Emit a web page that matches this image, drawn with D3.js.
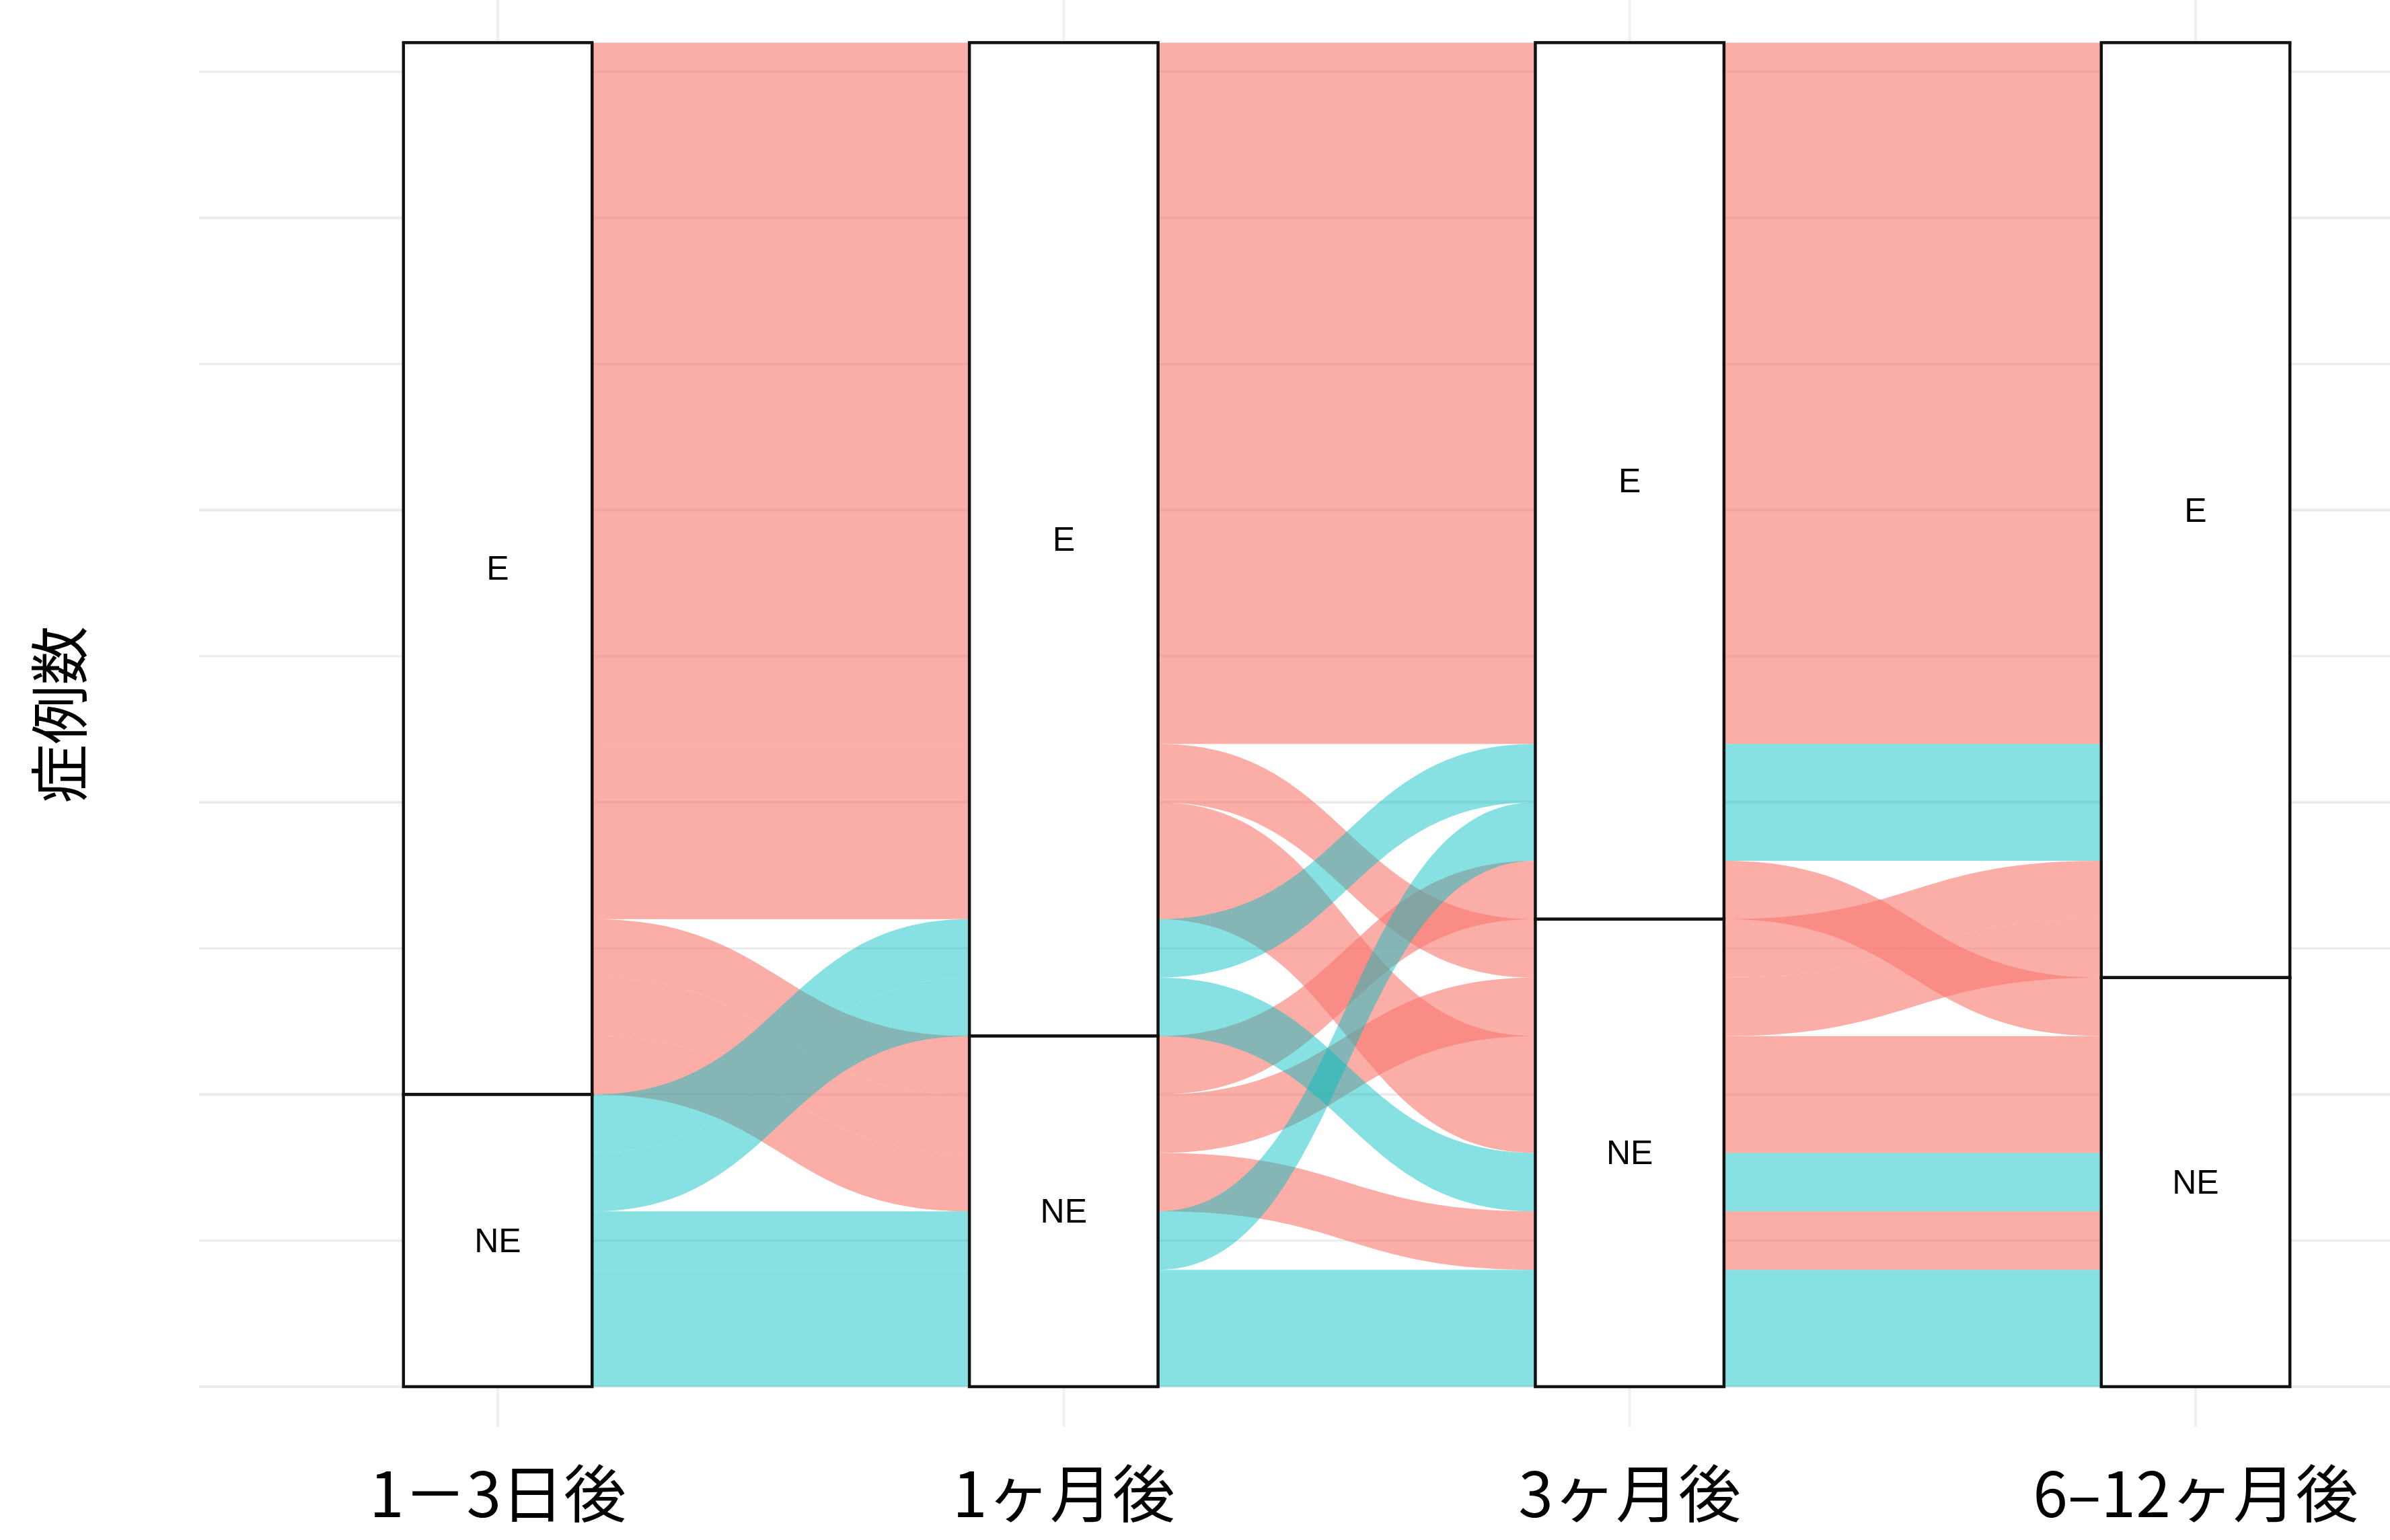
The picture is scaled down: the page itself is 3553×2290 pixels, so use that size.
<!DOCTYPE html>
<html>
<head>
<meta charset="utf-8">
<script src="https://cdn.jsdelivr.net/npm/d3@7"></script>
<style>
  body { margin: 0; background: #fff; }
  svg { display: block; }
</style>
</head>
<body>
<svg id="chart"></svg>
<script>
/*************************************************************************/
// data

const axisLabels = ["1－3日後", "1ヶ月後", "3ヶ月後", "6–12ヶ月後"];
const strataLevels = ["E", "NE"];

// status at each time point, one row per group of identical cases
const alluviumPaths = [
    ["E",  "E",  "E",  "E" ],
    ["E",  "E",  "NE", "E" ],
    ["E",  "E",  "NE", "NE"],
    ["E",  "NE", "E",  "NE"],
    ["E",  "NE", "NE", "E" ],
    ["E",  "NE", "NE", "NE"],
    ["NE", "E",  "E",  "E" ],
    ["NE", "E",  "NE", "NE"],
    ["NE", "NE", "E",  "E" ],
    ["NE", "NE", "NE", "NE"]
];
const alluviumCounts = [12, 1, 2, 1, 1, 1, 1, 1, 1, 2];

const yMajorTicks = [0, 5, 10, 15, 20];
const yMinorTicks = [2.5, 7.5, 12.5, 17.5, 22.5];

/*************************************************************************/
// setup

const W = 3553, H = 2290;
const total = d3.sum(alluviumCounts);
const nAxes = axisLabels.length;

const svg = d3.select('#chart').attr('width', W).attr('height', H);

const x = d3.scaleLinear().domain([1, nAxes]).range([740, 3264]);
const y = d3.scaleLinear().domain([0, total]).range([2062, 63.4]);
const fill = d3.scaleOrdinal().domain(strataLevels).range(["#F8766D", "#00BFC4"]);
const fillOpacity = d3.scaleOrdinal().domain(strataLevels).range([0.6, 0.47]);

const boxW = (x(2) - x(1)) / 3;
const panel = { left: 296, right: W, top: y(total * 1.05), bottom: y(-total * 0.03) };

const alluvia = alluviumPaths.map((p, i) => ({ path: p, count: alluviumCounts[i], tops: [] }));

/*************************************************************************/
// lode order at each axis: own stratum, then the other axes zigzagging outward

function zigzag(n, i){
    let left = d3.range(i - 1, -1, -1), right = d3.range(i + 1, n), out = [];
    let first = (i <= n - 1 - i) ? left : right, second = (first === left) ? right : left;
    while(first.length || second.length){
        if(first.length) out.push(first.shift());
        if(second.length) out.push(second.shift());
    }
    return out;
}

for(let i = 0; i < nAxes; i++){
    const order = [i].concat(zigzag(nAxes, i));
    const sorted = alluvia.slice().sort((a, b) => {
        for(const k of order){
            const d = strataLevels.indexOf(a.path[k]) - strataLevels.indexOf(b.path[k]);
            if(d) return d;
        }
        return 0;
    });
    let cum = 0;
    sorted.forEach(a => { a.tops[i] = total - cum; cum += a.count; });
}

/*************************************************************************/
// grid

const gridG = svg.append('g');

gridG.selectAll('line.h')
    .data(yMajorTicks.map(v => [v, 4]).concat(yMinorTicks.map(v => [v, 3])))
    .enter().append('line')
    .attr('x1', panel.left).attr('x2', panel.right)
    .attr('y1', d => y(d[0])).attr('y2', d => y(d[0]))
    .style('stroke', '#EBEBEB')
    .style('stroke-width', d => d[1]);

gridG.selectAll('line.v')
    .data(d3.range(1, nAxes + 1))
    .enter().append('line')
    .attr('x1', d => x(d)).attr('x2', d => x(d))
    .attr('y1', panel.top).attr('y2', panel.bottom)
    .style('stroke', '#F0F0F0')
    .style('stroke-width', 4);

/*************************************************************************/
// alluvia

function ribbon(a){
    const p = d3.path();
    const edge = (off) => d3.range(nAxes).map(i => [i, y(a.tops[i] - off)]);
    const top = edge(0), bot = edge(a.count).reverse();
    top.forEach(([i, yy], j) => {
        const xl = x(i + 1) - boxW / 2, xr = x(i + 1) + boxW / 2;
        if(j === 0) p.moveTo(xl, yy);
        else {
            const xp = x(i) + boxW / 2, mx = (xp + xl) / 2;
            p.bezierCurveTo(mx, top[j - 1][1], mx, yy, xl, yy);
        }
        p.lineTo(xr, yy);
    });
    bot.forEach(([i, yy], j) => {
        const xl = x(i + 1) - boxW / 2, xr = x(i + 1) + boxW / 2;
        if(j === 0) p.lineTo(xr, yy);
        else {
            const xn = x(i + 2) - boxW / 2, mx = (xr + xn) / 2;
            p.bezierCurveTo(mx, bot[j - 1][1], mx, yy, xr, yy);
        }
        p.lineTo(xl, yy);
    });
    p.closePath();
    return p.toString();
}

svg.append('g')
    .selectAll('path')
    .data(alluvia)
    .enter().append('path')
    .attr('d', ribbon)
    .style('fill', d => fill(d.path[0]))
    .style('fill-opacity', d => fillOpacity(d.path[0]))
    .style('stroke', 'none');

/*************************************************************************/
// strata

const strata = [];
for(let i = 0; i < nAxes; i++){
    let top = total;
    strataLevels.forEach(s => {
        const n = d3.sum(alluvia.filter(a => a.path[i] === s), a => a.count);
        strata.push({ axis: i + 1, stratum: s, top: top, bottom: top - n });
        top -= n;
    });
}

const strataG = svg.append('g');

strataG.selectAll('rect')
    .data(strata).enter().append('rect')
    .attr('x', d => x(d.axis) - boxW / 2)
    .attr('y', d => y(d.top))
    .attr('width', boxW)
    .attr('height', d => y(d.bottom) - y(d.top))
    .style('fill', '#fff')
    .style('stroke', '#111')
    .style('stroke-width', 4.5);

strataG.selectAll('text')
    .data(strata).enter().append('text')
    .attr('x', d => x(d.axis))
    .attr('y', d => y((d.top + d.bottom) / 2))
    .attr('text-anchor', 'middle')
    .attr('dominant-baseline', 'central')
    .style('font-family', '"Liberation Sans", Arial, sans-serif')
    .style('font-size', '50px')
    .text(d => d.stratum);

/*************************************************************************/
// axis labels

svg.append('g')
    .selectAll('text')
    .data(axisLabels).enter().append('text')
    .attr('x', (d, i) => x(i + 1))
    .attr('y', 2256)
    .attr('text-anchor', 'middle')
    .style('font-family', '"Noto Sans CJK JP", sans-serif')
    .style('font-size', '93px')
    .text(d => d);

svg.append('text')
    .attr('transform', 'translate(82,' + y(total / 2) + ') rotate(-90)')
    .attr('text-anchor', 'middle')
    .attr('dominant-baseline', 'central')
    .style('font-family', '"Noto Sans CJK JP", sans-serif')
    .style('font-size', '88px')
    .text('症例数');
</script>
</body>
</html>
